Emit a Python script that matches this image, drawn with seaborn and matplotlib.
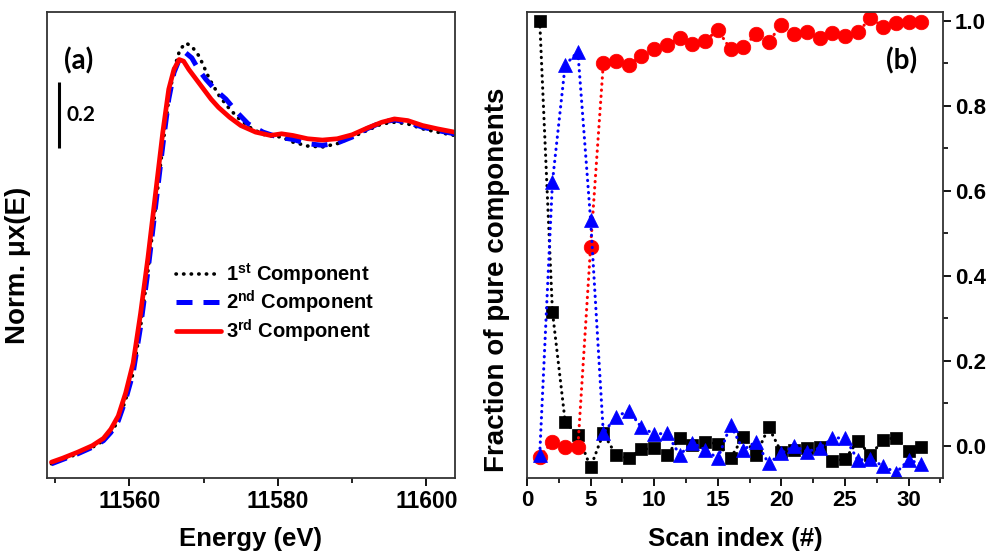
import numpy as np
import pandas as pd
import matplotlib
matplotlib.use("Agg")
import matplotlib.pyplot as plt
from matplotlib.ticker import MultipleLocator, FixedLocator
import seaborn as sns

# ---------------- data: panel (a) XANES components ----------------
energy_c1 = [11549.5, 11551, 11553, 11555, 11556.5, 11557.5, 11558.5, 11559.5, 11560.5,
             11561.5, 11562.5, 11563.5, 11564.5, 11565.3, 11566, 11566.8, 11567.6, 11568.4,
             11569.4, 11570.2, 11570.8, 11572.1, 11573.5, 11574.8, 11576.5, 11578.4, 11580.5,
             11582, 11584, 11586, 11588, 11590, 11592, 11594, 11595.7, 11597.5, 11599.5,
             11601.5, 11603.8]
mu_c1 = [-0.005, 0.008, 0.025, 0.045, 0.065, 0.09, 0.125, 0.19, 0.27,
         0.41, 0.58, 0.77, 0.96, 1.10, 1.19, 1.25, 1.27, 1.26,
         1.23, 1.19, 1.16, 1.11, 1.07, 1.04, 1.01, 0.99, 0.985,
         0.97, 0.958, 0.955, 0.965, 0.985, 1.005, 1.025, 1.03, 1.025, 1.01,
         1.0, 0.99]

energy_c2 = [11549.5, 11551, 11553, 11555, 11556.5, 11557.5, 11558.5, 11559.5, 11560.5,
             11561.5, 11562.5, 11563.5, 11564.5, 11565.3, 11566, 11566.8, 11567.6, 11568.4,
             11569.3, 11570.3, 11571.5, 11573, 11574.5, 11576, 11578, 11580, 11582, 11584,
             11586, 11588, 11590, 11592, 11594, 11595.7, 11597.5, 11599.5, 11601.5, 11603.8]
mu_c2 = [-0.005, 0.008, 0.025, 0.045, 0.065, 0.09, 0.125, 0.19, 0.27,
         0.41, 0.58, 0.77, 0.96, 1.10, 1.18, 1.225, 1.24, 1.225,
         1.19, 1.16, 1.13, 1.10, 1.06, 1.025, 1.0, 0.985, 0.978, 0.965,
         0.96, 0.967, 0.985, 1.01, 1.03, 1.037, 1.03, 1.015, 1.005, 0.995]

energy_c3 = [11549.5, 11551, 11553, 11555, 11556.5, 11557.5, 11558.5, 11559.5, 11560.5,
             11561.5, 11562.5, 11563.5, 11564.5, 11565.3, 11566, 11566.7, 11567.3, 11568,
             11569, 11570, 11571, 11572, 11573.5, 11575, 11577, 11579, 11580.5, 11582,
             11584, 11586, 11588, 11590, 11592, 11594, 11595.7, 11597.5, 11599.5, 11601.5,
             11603.8]
mu_c3 = [0.0, 0.012, 0.03, 0.05, 0.072, 0.10, 0.14, 0.21, 0.30,
         0.45, 0.62, 0.81, 1.00, 1.13, 1.19, 1.22, 1.215, 1.19,
         1.16, 1.13, 1.10, 1.075, 1.045, 1.02, 1.0, 0.99, 0.995, 0.99,
         0.98, 0.976, 0.98, 0.992, 1.012, 1.03, 1.04, 1.035, 1.02, 1.01,
         1.0]

legend_labels = [r"1$^{\mathbf{st}}$ Component", r"2$^{\mathbf{nd}}$ Component",
                 r"3$^{\mathbf{rd}}$ Component"]

# ---------------- data: panel (b) fractions ----------------
scan_index = list(range(1, 32))
frac_c1 = [1.0, 0.316, 0.057, 0.026, -0.05, 0.03, -0.021, -0.029, -0.008, -0.005,
           -0.021, 0.018, 0.002, 0.010, 0.005, -0.029, 0.022, -0.021, 0.044, -0.015,
           -0.01, -0.005, -0.002, -0.035, -0.031, 0.012, -0.021, 0.014, 0.020, -0.011,
           -0.003]
frac_c2 = [-0.02, 0.621, 0.896, 0.927, 0.531, 0.030, 0.069, 0.083, 0.044, 0.028,
           0.030, -0.021, 0.008, -0.009, -0.029, 0.049, -0.009, 0.010, -0.041, -0.017,
           0.0, -0.013, -0.005, 0.018, 0.020, -0.033, -0.031, -0.047, -0.063, -0.033,
           -0.042]
frac_c3 = [-0.025, 0.010, -0.002, -0.002, 0.469, 0.900, 0.906, 0.896, 0.917, 0.933,
           0.944, 0.959, 0.945, 0.953, 0.978, 0.933, 0.939, 0.968, 0.951, 0.990,
           0.968, 0.973, 0.959, 0.970, 0.964, 0.973, 1.006, 0.986, 0.994, 0.998,
           0.998]

xticks_a = [11560, 11580, 11600]
yticks_b = [0.0, 0.2, 0.4, 0.6, 0.8, 1.0]
xticks_b = [0, 5, 10, 15, 20, 25, 30]
scale_bar = 0.2

# ---------------- style ----------------
sns.set_theme(style="ticks")
plt.rcParams["font.family"] = ["Liberation Sans", "DejaVu Sans"]
plt.rcParams["font.weight"] = "bold"
plt.rcParams["text.color"] = "black"
plt.rcParams["axes.labelcolor"] = "black"
plt.rcParams["xtick.color"] = "black"
plt.rcParams["ytick.color"] = "black"
plt.rcParams["mathtext.fontset"] = "custom"
plt.rcParams["mathtext.rm"] = "Liberation Sans:bold"
plt.rcParams["mathtext.bf"] = "Liberation Sans:bold"
plt.rcParams["mathtext.it"] = "Liberation Sans:bold:italic"

W, H = 989, 553
fig = plt.figure(figsize=(W / 100, H / 100), dpi=100)
ax1 = fig.add_axes([47 / W, 75 / H, 408 / W, 466 / H])
ax2 = fig.add_axes([527 / W, 75 / H, 416 / W, 466 / H])

# ---------------- panel (a) ----------------
d1 = pd.DataFrame({"E": energy_c1, "mu": mu_c1})
d2 = pd.DataFrame({"E": energy_c2, "mu": mu_c2})
d3 = pd.DataFrame({"E": energy_c3, "mu": mu_c3})
sns.lineplot(data=d1, x="E", y="mu", ax=ax1, color="black", lw=2.6,
             linestyle=(0, (0.1, 2.0)), dash_capstyle="round", label=legend_labels[0],
             sort=False, estimator=None)
sns.lineplot(data=d2, x="E", y="mu", ax=ax1, color="#0000ff", lw=3.6,
             linestyle=(0, (3.2, 2.2)), label=legend_labels[1], sort=False, estimator=None)
sns.lineplot(data=d3, x="E", y="mu", ax=ax1, color="#ff0000", lw=3.4,
             linestyle="-", label=legend_labels[2], sort=False, estimator=None)

ax1.set_xlim(11548.9, 11603.86)
ax1.set_ylim(-0.048, 1.364)
ax1.xaxis.set_major_locator(FixedLocator(xticks_a))
ax1.xaxis.set_minor_locator(MultipleLocator(10))
ax1.set_yticks([])
ax1.set_xlabel("")
ax1.set_ylabel("")
ax1.tick_params(axis="x", which="major", direction="out", length=5.5, width=1.3,
                labelsize=16.5, pad=3)
ax1.tick_params(axis="x", which="minor", direction="out", length=3.5, width=1.2)
for lab in ax1.get_xticklabels():
    lab.set_fontweight("bold")

leg = ax1.legend(loc="upper left", bbox_to_anchor=(0.315, 0.465), frameon=False,
                 fontsize=14.5, handlelength=2.25, handletextpad=0.25,
                 labelspacing=0.08, borderpad=0, borderaxespad=0)
for t in leg.get_texts():
    t.set_fontweight("bold")
    t.set_color("black")

# scale bar
bar_x = 11550.5
bar_top = 1.152
ax1.plot([bar_x, bar_x], [bar_top - scale_bar, bar_top], color="black", lw=2.2,
         solid_capstyle="butt")
ax1.text(bar_x + 1.0, bar_top - scale_bar / 2, f"{scale_bar:.1f}", fontsize=15,
         fontweight="bold", va="center", ha="left", family=["Lato", "DejaVu Sans"])
ax1.text(0.077, 0.895, "(a)", transform=ax1.transAxes, fontsize=20, fontweight="bold",
         ha="center", va="center", family=["Lato", "DejaVu Sans"])

# ---------------- panel (b) ----------------
db = pd.DataFrame({"i": scan_index, "c1": frac_c1, "c2": frac_c2, "c3": frac_c3})
dot = (0, (0.1, 1.9))
sns.lineplot(data=db, x="i", y="c1", ax=ax2, color="black", lw=2.2, linestyle=dot,
             marker="s", markersize=8.5, markeredgecolor="black", markeredgewidth=0.5,
             dash_capstyle="round", estimator=None)
sns.lineplot(data=db, x="i", y="c3", ax=ax2, color="#ff0000", lw=2.2, linestyle=dot,
             marker="o", markersize=10.5, markeredgecolor="#ff0000", markeredgewidth=0.5,
             dash_capstyle="round", estimator=None)
sns.lineplot(data=db, x="i", y="c2", ax=ax2, color="#0000ff", lw=2.2, linestyle=dot,
             marker="^", markersize=10.5, markeredgecolor="#0000ff", markeredgewidth=0.5,
             dash_capstyle="round", estimator=None)

ax2.set_xlim(0, 32.7)
ax2.set_ylim(-0.0752, 1.0205)
ax2.xaxis.set_major_locator(FixedLocator(xticks_b))
ax2.xaxis.set_minor_locator(MultipleLocator(2.5))
ax2.yaxis.set_major_locator(FixedLocator(yticks_b))
ax2.yaxis.set_minor_locator(MultipleLocator(0.1))
ax2.yaxis.tick_right()
ax2.set_yticklabels([f"{v:.1f}" for v in yticks_b])
ax2.set_xlabel("")
ax2.set_ylabel("")
ax2.tick_params(axis="both", which="major", direction="out", length=5.5, width=1.3,
                labelsize=16, pad=3)
ax2.tick_params(axis="both", which="minor", direction="out", length=3.5, width=1.2)
ax2.tick_params(axis="y", which="both", left=False, right=True, labelleft=False,
                labelright=True)
for lab in ax2.get_xticklabels() + ax2.get_yticklabels():
    lab.set_fontweight("bold")
ax2.text(0.901, 0.895, "(b)", transform=ax2.transAxes, fontsize=20, fontweight="bold",
         ha="center", va="center", family=["Lato", "DejaVu Sans"])

for ax in (ax1, ax2):
    for sp in ax.spines.values():
        sp.set_visible(True)
        sp.set_linewidth(1.3)
        sp.set_color("#333333")

# axis labels
fig.text(251 / W, 1 - 539 / H, "Energy (eV)", fontsize=18.5, fontweight="bold",
         ha="center", va="center")
fig.text(735 / W, 1 - 539 / H, "Scan index (#)", fontsize=18.5, fontweight="bold",
         ha="center", va="center")
fig.text(18 / W, 1 - 265 / H, "Norm. μx(E)", fontsize=20, fontweight="bold",
         ha="center", va="center", rotation=90)
fig.text(497 / W, 1 - 280 / H, "Fraction of pure components", fontsize=20,
         fontweight="bold", ha="center", va="center", rotation=90)

fig.savefig("out.png", dpi=100)
